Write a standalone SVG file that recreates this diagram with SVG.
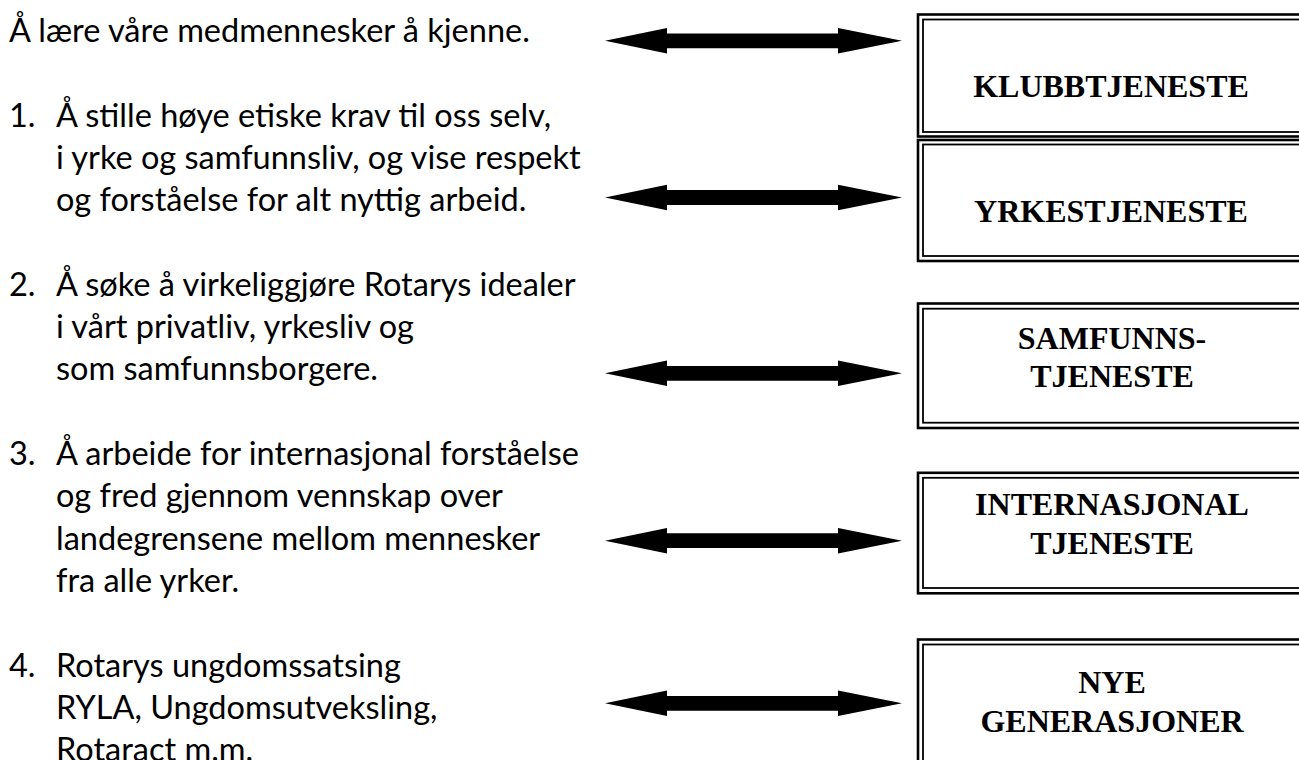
<svg xmlns="http://www.w3.org/2000/svg" width="1299" height="760" viewBox="0 0 1299 760">
<style>
.t{font-family:Lato,"Open Sans","Liberation Sans",sans-serif;font-size:32.5px;fill:#000}
.b{font-family:"Liberation Serif","Times New Roman",serif;font-size:32px;font-weight:bold;fill:#000;text-anchor:middle}
.o{fill:#fff;stroke:#000;stroke-width:2.6}
.i{fill:none;stroke:#000;stroke-width:1.8}
</style>
<defs>
<path id="arr" d="M605,0 L667,-12.8 L667,-7.4 L838,-7.4 L838,-12.8 L902,0 L838,12.8 L838,7.4 L667,7.4 L667,12.8 Z" fill="#000"/>
</defs>
<rect width="1299" height="760" fill="#fff"/>
<g id="text">
<text class="t" x="9" y="42">Å lære våre medmennesker å kjenne.</text>
<text class="t" x="9" y="126.6">1.</text>
<text class="t" x="56" y="126.6">Å stille høye etiske krav til oss selv,</text>
<text class="t" x="56" y="168.9">i yrke og samfunnsliv, og vise respekt</text>
<text class="t" x="56" y="211.2">og forståelse for alt nyttig arbeid.</text>
<text class="t" x="9" y="295.8">2.</text>
<text class="t" x="56" y="295.8">Å søke å virkeliggjøre Rotarys idealer</text>
<text class="t" x="56" y="338.1">i vårt privatliv, yrkesliv og</text>
<text class="t" x="56" y="380.4">som samfunnsborgere.</text>
<text class="t" x="9" y="465">3.</text>
<text class="t" x="56" y="465">Å arbeide for internasjonal forståelse</text>
<text class="t" x="56" y="507.3">og fred gjennom vennskap over</text>
<text class="t" x="56" y="549.6">landegrensene mellom mennesker</text>
<text class="t" x="56" y="591.9">fra alle yrker.</text>
<text class="t" x="9" y="676.5">4.</text>
<text class="t" x="56" y="676.5">Rotarys ungdomssatsing</text>
<text class="t" x="56" y="718.8">RYLA, Ungdomsutveksling,</text>
<text class="t" x="56" y="761.1">Rotaract m.m.</text>
</g>
<g id="connectors">
<use href="#arr" transform="translate(0,40.8)"/>
<use href="#arr" transform="translate(0,197.5)"/>
<use href="#arr" transform="translate(0,373.3)"/>
<use href="#arr" transform="translate(0,540.7)"/>
<use href="#arr" transform="translate(0,703.3)"/>
</g>
<g id="klubbtjeneste">
<rect class="o" x="918" y="14.5" width="390" height="122"/>
<rect class="i" x="923" y="19.5" width="380" height="112.5"/>
<text class="b" x="1111" y="97">KLUBBTJENESTE</text>
</g>
<g id="yrkestjeneste">
<rect class="o" x="918" y="140" width="390" height="121"/>
<rect class="i" x="923" y="144.5" width="380" height="111.5"/>
<text class="b" x="1111" y="221.7">YRKESTJENESTE</text>
</g>
<g id="samfunnstjeneste">
<rect class="o" x="918" y="303.5" width="390" height="124.5"/>
<rect class="i" x="923" y="308.7" width="380" height="114"/>
<text class="b" x="1112" y="349">SAMFUNNS-</text>
<text class="b" x="1112" y="387">TJENESTE</text>
</g>
<g id="internasjonal">
<rect class="o" x="918" y="472.8" width="390" height="120.5"/>
<rect class="i" x="923" y="477.8" width="380" height="110.2"/>
<text class="b" x="1112" y="515">INTERNASJONAL</text>
<text class="b" x="1112" y="553.5">TJENESTE</text>
</g>
<g id="nye-generasjoner">
<rect class="o" x="918" y="639.5" width="390" height="140"/>
<rect class="i" x="923" y="644.5" width="380" height="130"/>
<text class="b" x="1112" y="693.3">NYE</text>
<text class="b" x="1112" y="731.7">GENERASJONER</text>
</g>
</svg>
